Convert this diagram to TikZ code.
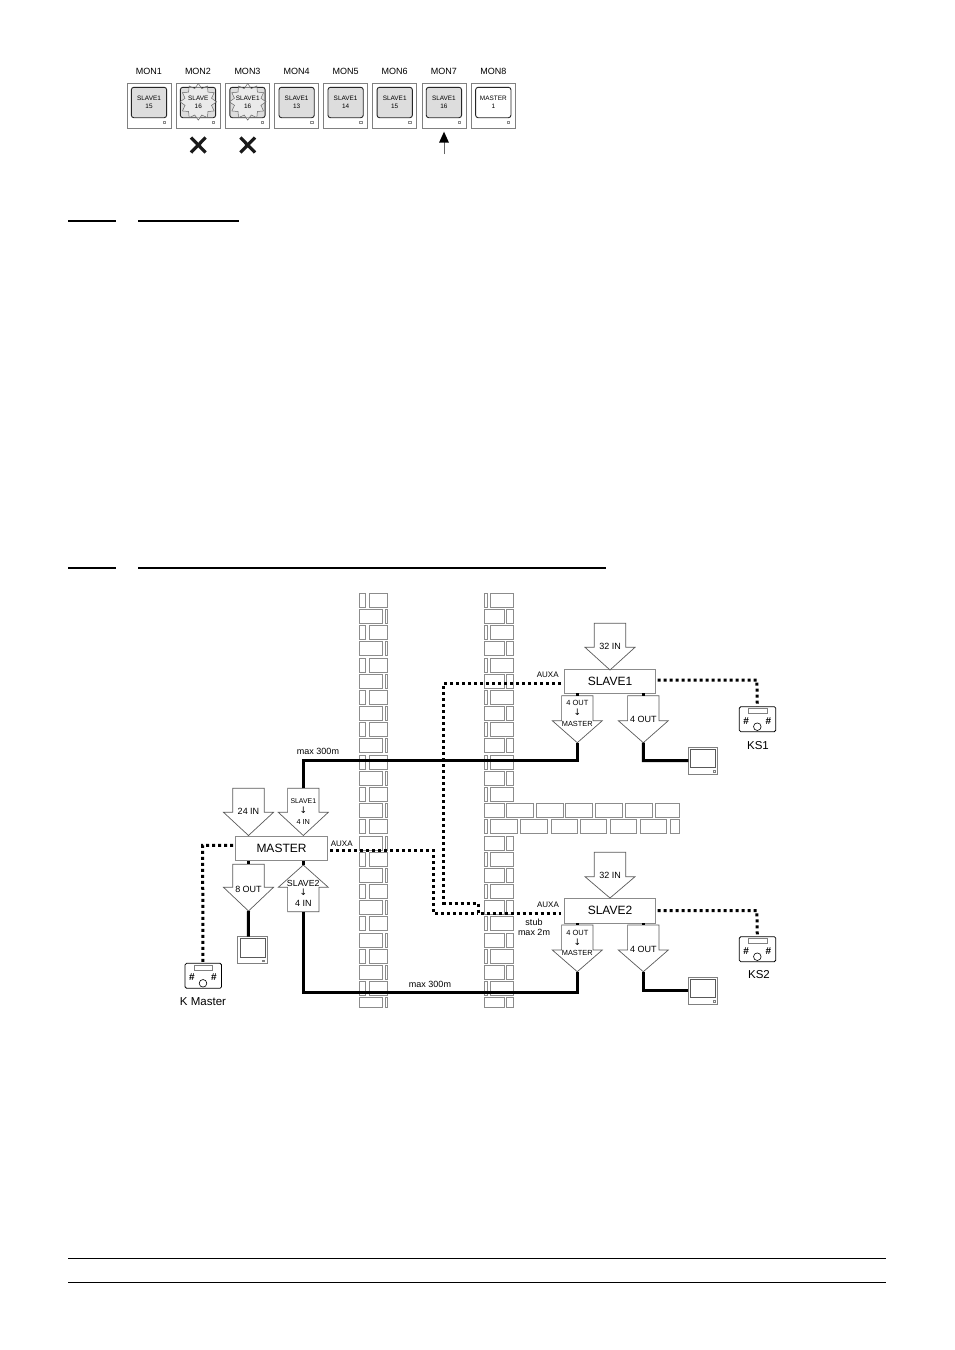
\documentclass[tikz,border=0pt]{standalone}
\usepackage{fontspec}
\setmainfont{Liberation Sans}
\newfontfamily\arrowfont{DejaVu Sans}
\usetikzlibrary{shapes.geometric}
\definecolor{brick}{HTML}{8C8C8C}
\definecolor{blockline}{HTML}{5A5A5A}
\definecolor{panel}{HTML}{DDDDDD}
\tikzset{
  x=1pt,y=-1pt,
  txt/.style={inner sep=0pt,font=\fontsize{#1}{#1}\selectfont,align=center},
  txt/.default=8,
  brk/.style={draw=brick,line width=0.7pt},
  blockarrow/.style={draw=blockline,line width=0.7pt,fill=white},
  unitbox/.style={draw=blockline!70,line width=0.9pt,fill=white,minimum width=91.5pt,minimum height=24.5pt,inner sep=0pt,font=\fontsize{12}{12}\selectfont},
  bus/.style={line width=3pt,black},
  ctrl/.style={line width=3pt,black,dash pattern=on 3pt off 3pt},
  outerbox/.style={draw=black!50,line width=0.7pt,fill=white},
  innerbox/.style={draw=black!85,line width=0.9pt,rounded corners=2.5pt},
  rulex/.style={line width=2pt,black},
  burst/.style={draw=black!60,line width=0.5pt,fill=white,fill opacity=0.4},
}
\newcommand{\blockdown}[5]{%
  \draw[blockarrow] (#2-15.7,#3) -- (#2+15.7,#3) -- (#2+15.7,#4) -- (#2+25,#4) -- (#2,#5) -- (#2-25,#4) -- (#2-15.7,#4) -- cycle;
  \coordinate (#1-top) at (#2,#3);
  \coordinate (#1-tip) at (#2,#5);}
\newcommand{\blockup}[5]{\blockdown{#1}{#2}{#3}{#4}{#5}}
\newcommand{\screenunit}[3]{%
  \draw[outerbox] (#2,#3) rectangle ++(29.4,27);
  \draw[draw=black!65,line width=0.7pt] (#2+2.4,#3+2) rectangle ++(25,18.5);
  \draw[black!50,line width=0.5pt] (#2+24.5,#3+23.2) rectangle ++(2,1.6);
  \coordinate (#1-l) at (#2,#3+13.3);
  \coordinate (#1-t) at (#2+10.8,#3);}
\newcommand{\keyunit}[3]{%
  \draw[draw=black,line width=0.8pt,rounded corners=1.5pt,fill=white] (#2,#3) rectangle ++(36.5,25);
  \draw[draw=black!50,line width=0.6pt] (#2+9.2,#3+2) rectangle ++(18.4,5);
  \node[txt=10] (#1-a) at (#2+6.8,#3+14.2) {\textbf{\#}};
  \node[txt=10] (#1-b) at (#2+29,#3+14.2) {\textbf{\#}};
  \draw[black,line width=0.6pt,fill=white] (#2+18,#3+20) circle (3.8);
  \coordinate (#1-t) at (#2+18,#3);}
\newcommand{\monbox}[6]{%
  \node[txt=9] (mon#1) at (#2+22,71.3) {#3};
  \draw[outerbox] (#2,83.3) rectangle ++(44,45);
  \node[innerbox,fill=#6,minimum width=35.3pt,minimum height=30.4pt,inner sep=0pt] (scr#1) at (#2+22,102.5) {};
  \draw[black!45,line width=0.5pt] (#2+36,121.5) rectangle ++(2.2,2.2);
  \node[txt=6.4] (t#1) at (#2+22,101.8) {#4\\[1.6pt]#5};}
\newcommand{\burstat}[2]{%
  \draw[burst] plot[samples at={0,...,23}] ({#1+(16+2.3*cos(\x*180))*cos(\x*15+90)},{#2+(16+2.3*cos(\x*180))*sin(\x*15+90)}) -- cycle;}
\begin{document}
\begin{tikzpicture}
\useasboundingbox (0,0) rectangle (954,1350);
\fill[white] (0,0) rectangle (954,1350);

% ---- monitor row
\monbox{1}{127}{MON1}{SLAVE1}{15}{panel}
\monbox{2}{176}{MON2}{}{}{panel}
\monbox{3}{225.5}{MON3}{}{}{panel}
\monbox{4}{274.6}{MON4}{SLAVE1}{13}{panel}
\monbox{5}{323.6}{MON5}{SLAVE1}{14}{panel}
\monbox{6}{372.7}{MON6}{SLAVE1}{15}{panel}
\monbox{7}{421.9}{MON7}{SLAVE1}{16}{panel}
\monbox{8}{471.3}{MON8}{MASTER}{1}{white}
\burstat{198.3}{101.8}
\burstat{247.7}{101.8}
\node[txt=6.4] (st2) at (198.3,101.8) {SLAVE\\[1.6pt]16};
\node[txt=6.4] (st3) at (247.7,101.8) {SLAVE1\\[1.6pt]16};
\foreach \cx in {198.3,247.7}{
  \draw[line width=3.2pt,black!90] (\cx-7.3,137.5) -- (\cx+7.3,152.5);
  \draw[line width=3.2pt,black!90] (\cx+7.3,137.5) -- (\cx-7.3,152.5);
}
\coordinate (upfoot) at (444,154);
\coordinate (uphead) at (444,142);
\draw[black!60,line width=0.7pt] (upfoot) -- (uphead);
\fill[black] (444,131.7) -- (449,142.7) -- (439,142.7) -- cycle;

% ---- rules
\draw[rulex] (68,220.7) -- (116,220.7);
\draw[rulex] (138,220.7) -- (239,220.7);
\draw[rulex] (68,567.7) -- (116,567.7);
\draw[rulex] (138,567.7) -- (606,567.7);
\draw[line width=1pt,black] (68,1258.3) -- (886,1258.3);
\draw[line width=1pt,black] (68,1282.3) -- (886,1282.3);

% ---- brick walls
\foreach \k in {0,...,25}{
  \pgfmathsetmacro{\ya}{593.3+16.17*\k}
  \pgfmathsetmacro{\yb}{min(\ya+14,1007)}
  \pgfmathtruncatemacro{\odd}{mod(\k,2)}
  \ifnum\odd=0
    \draw[brk] (359.3,\ya) rectangle (365.7,\yb);
    \draw[brk] (369.3,\ya) rectangle (387.7,\yb);
    \draw[brk] (484.7,\ya) rectangle (487.7,\yb);
    \ifnum\k=14\else\draw[brk] (490.7,\ya) rectangle (513.3,\yb);\fi
  \else
    \draw[brk] (359.3,\ya) rectangle (382,\yb);
    \draw[brk] (385,\ya) rectangle (387.7,\yb);
    \draw[brk] (484.7,\ya) rectangle (504,\yb);
    \ifnum\k=13\else\draw[brk] (506.7,\ya) rectangle (513.3,\yb);\fi
  \fi
}
\foreach \a/\b in {506.7/533.3,536.3/563.3,565.7/592.3,595.7/622.3,625.7/652.3,655.7/679.3}
  \draw[brk] (\a,803.5) rectangle (\b,817.5);
\foreach \a/\b in {490.7/517.7,520.7/547.7,551/577.7,580/606.7,610/636.7,640/666.7,670/679.3}
  \draw[brk] (\a,819.7) rectangle (\b,833.7);

% ---- units
\node[unitbox] (slave1) at (610,681.2) {SLAVE1};
\node[unitbox] (slave2) at (610,910.8) {SLAVE2};
\node[unitbox] (master) at (281.5,848.5) {MASTER};

% ---- block arrows
\blockdown{s1in}{610}{623.3}{647.3}{670}
\blockdown{s1m}{577.3}{695.7}{720.7}{742.7}
\blockdown{s1o}{643.3}{695.7}{720.7}{742.7}
\blockdown{s2in}{610}{852.3}{876.7}{898}
\blockdown{s2m}{577.3}{925}{950}{971.7}
\blockdown{s2o}{643.3}{925}{950}{971.7}
\blockdown{m24}{248.5}{788.3}{812.3}{835.5}
\blockdown{m4}{303.3}{788.3}{812.3}{835.5}
\blockdown{m8}{248.5}{864.3}{887.3}{911}
\blockup{m2}{303.3}{911.7}{887.3}{865}

\node[txt=9] (l32a) at (610,646.7) {32 IN};
\node[txt=9] (l32b) at (610,875.7) {32 IN};
\node[txt=9] (l24) at (248.5,811.7) {24 IN};
\node[txt=9] (l8) at (248.5,889) {8 OUT};
\node[txt=9] (l4a) at (643.3,719.3) {4 OUT};
\node[txt=9] (l4b) at (643.3,949) {4 OUT};

\node[txt=7.5] (a1) at (577.3,703.3) {4 OUT};
\node[txt=8,font=\arrowfont\fontsize{9}{9}\selectfont] (a2) at (577.3,712.7) {↓};
\node[txt=7.4] (a3) at (577.3,724) {MASTER};
\node[txt=7.5] (b1) at (577.3,933.3) {4 OUT};
\node[txt=8,font=\arrowfont\fontsize{9}{9}\selectfont] (b2) at (577.3,942.5) {↓};
\node[txt=7.4] (b3) at (577.3,953.3) {MASTER};
\node[txt=6.9] (c1) at (303.3,801) {SLAVE1};
\node[txt=8,font=\arrowfont\fontsize{9}{9}\selectfont] (c2) at (303.3,810.7) {↓};
\node[txt=7.3] (c3) at (303.3,821.7) {4 IN};
\node[txt=8.8] (d1) at (303.3,883) {SLAVE2};
\node[txt=8,font=\arrowfont\fontsize{9}{9}\selectfont] (d2) at (303.3,892.7) {↓};
\node[txt=9] (d3) at (303.3,903.3) {4 IN};

% ---- screens and keyboards
\screenunit{mons1}{688.3}{747.3}
\screenunit{mons2}{688.3}{977.3}
\screenunit{monm}{237.5}{936.7}
\keyunit{ks1}{739.3}{706.7}
\keyunit{ks2}{739.3}{936.7}
\keyunit{kmm}{185}{963.3}

% ---- solid links
\coordinate (ja) at (303.3,760.7);
\coordinate (jb) at (577.3,760.7);
\coordinate (jc) at (643.3,760.7);
\coordinate (jd) at (303.3,992);
\coordinate (je) at (577.3,992);
\coordinate (jf) at (643.3,990.6);
\draw[bus] (m4-top) -- (ja) -- (jb) -- (s1m-tip);
\draw[bus] (s1o-tip) -- (jc) -- (mons1-l);
\draw[bus] (m2-top) -- (jd) -- (je) -- (s2m-tip);
\draw[bus] (s2o-tip) -- (jf) -- (mons2-l);
\draw[bus] (m8-tip) -- (monm-t);
\draw[bus] (577.3,693.4) -- (s1m-top);
\draw[bus] (643.3,693.4) -- (s1o-top);
\draw[bus] (577.3,923) -- (s2m-top);
\draw[bus] (643.3,923) -- (s2o-top);
\draw[bus] (248.5,860.8) -- (m8-top);
\draw[bus] (303.3,860.8) -- (m2-tip);

% ---- dotted links
\coordinate (p1) at (561,683.3);
\coordinate (p2) at (443.8,683.3);
\coordinate (p3) at (443.8,903.3);
\coordinate (p4) at (478.3,903.3);
\coordinate (p5) at (478.3,913.3);
\coordinate (p6) at (560.5,913.3);
\draw[ctrl] (p1) -- (p2) -- (p3) -- (p4) -- (p5) -- (p6);
\coordinate (q1) at (330,850.3);
\coordinate (q2) at (433.3,850.3);
\coordinate (q3) at (433.3,913.3);
\draw[ctrl] (q1) -- (q2) -- (q3) -- (p5);
\coordinate (r1) at (657.5,680);
\coordinate (r2) at (756.9,680);
\draw[ctrl] (r1) -- (r2) -- (ks1-t);
\coordinate (s1) at (657.5,910.7);
\coordinate (s2) at (756.9,910.7);
\draw[ctrl] (s1) -- (s2) -- (ks2-t);
\coordinate (u1) at (233,845.3);
\coordinate (u2) at (202.6,845.3);
\draw[ctrl] (u1) -- (u2) -- (kmm-t);

% ---- labels
\node[txt=9] (maxa) at (318,751) {max 300m};
\node[txt=9] (maxb) at (430,984) {max 300m};
\node[txt=8] (auxa1) at (547.7,675) {AUXA};
\node[txt=8] (auxa2) at (548,905) {AUXA};
\node[txt=8] (auxam) at (341.7,843.3) {AUXA};
\node[txt=9] (stub) at (534,927.3) {stub\\[1pt]max 2m};
\node[txt=11.5] (kmaster) at (203,1002) {K Master};
\node[txt=11.5] (ks1lab) at (758,746) {KS1};
\node[txt=11.5] (ks2lab) at (759,975) {KS2};
\end{tikzpicture}
\end{document}
